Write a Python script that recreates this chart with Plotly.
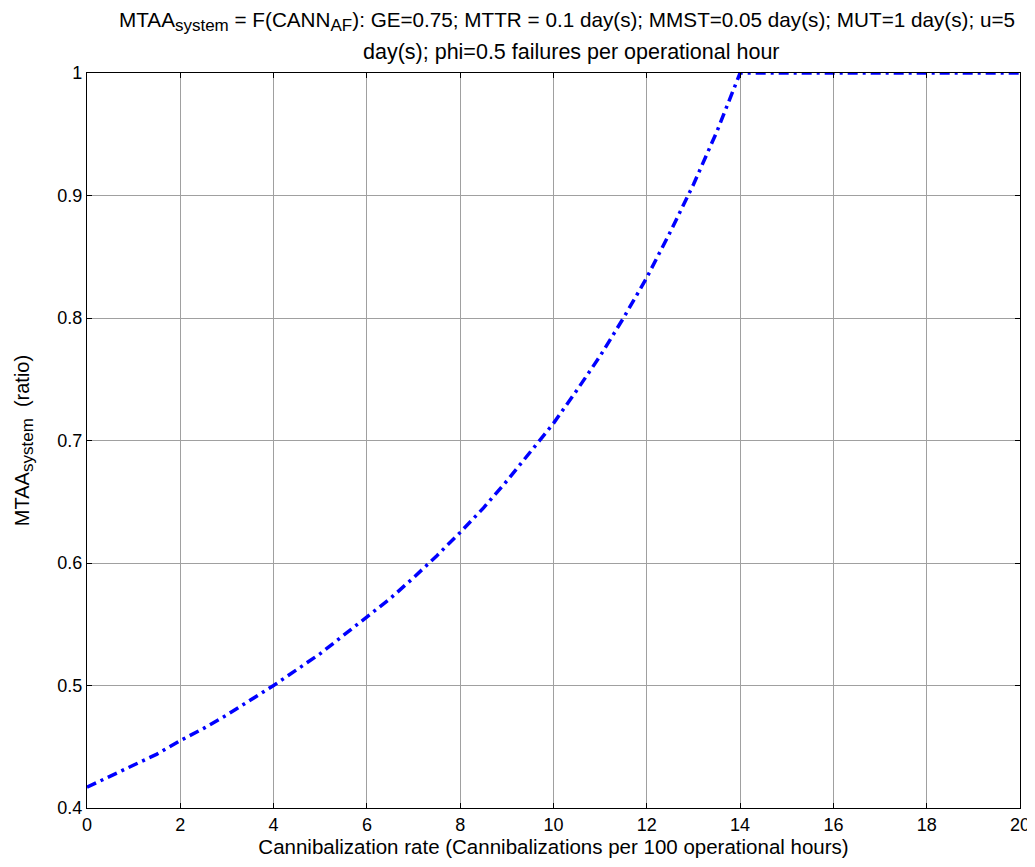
import plotly.graph_objects as go

cann_rate = [0, 0.5, 1, 1.5, 2, 2.5, 3, 3.5, 4, 4.5, 5, 5.5, 6, 6.5, 7, 7.5, 8, 8.5, 9, 9.5,
             10, 10.5, 11, 11.5, 12, 12.5, 13, 13.5, 14, 15, 16, 17, 18, 19, 20]
mtaa = [0.417, 0.426, 0.435, 0.444, 0.455, 0.465, 0.476, 0.488, 0.500, 0.513, 0.526,
        0.541, 0.556, 0.571, 0.588, 0.606, 0.625, 0.645, 0.667, 0.690,
        0.714, 0.741, 0.769, 0.800, 0.833, 0.870, 0.909, 0.952, 1.0,
        1.0, 1.0, 1.0, 1.0, 1.0, 1.0]

x_ticks = [0, 2, 4, 6, 8, 10, 12, 14, 16, 18, 20]
y_ticks = [0.4, 0.5, 0.6, 0.7, 0.8, 0.9, 1.0]
y_tick_text = ["0.4", "0.5", "0.6", "0.7", "0.8", "0.9", "1"]

SUB = '<sub><span style="font-size:17px">{}</span></sub>'
title_line1 = ("MTAA" + SUB.format("system") + " = F(CANN" + SUB.format("AF") +
               "): GE=0.75; MTTR = 0.1 day(s); MMST=0.05 day(s); MUT=1 day(s); u=5")
title_line2 = "day(s); phi=0.5 failures per operational hour"
y_title = "MTAA" + SUB.format("system") + "  (ratio)"
x_title = "Cannibalization rate (Cannibalizations per 100 operational hours)"

FONT = "Liberation Sans, Arial, sans-serif"

fig = go.Figure()
fig.add_trace(go.Scatter(
    x=cann_rate, y=mtaa, mode="lines",
    line=dict(color="#0000ff", width=3.5, dash="10px,5px,3px,5px"),
    showlegend=False, cliponaxis=False,
))

axis_common = dict(
    showline=True, linecolor="black", linewidth=1.2, mirror="ticks",
    ticks="inside", ticklen=5, tickcolor="black",
    showgrid=True, gridcolor="#a0a0a0", gridwidth=1,
    zeroline=False, automargin=False, ticklabeloverflow="allow",
    tickfont=dict(family=FONT, size=18, color="black"),
)

# page body has an 8px margin; compensate so the figure lands where the reference is
fig.update_layout(
    width=1027, height=851,
    paper_bgcolor="white", plot_bgcolor="white",
    margin=dict(l=79, r=15, t=65, b=51, autoexpand=False),
    font=dict(family=FONT, size=18, color="black"),
    xaxis=dict(range=[0, 20], tickvals=x_ticks,
               title=dict(text=x_title, standoff=2, font=dict(size=20.5)),
               **axis_common),
    yaxis=dict(range=[0.4, 1.0], tickvals=y_ticks, ticktext=y_tick_text,
               title=dict(text=y_title, standoff=22, font=dict(size=20)),
               **axis_common),
    annotations=[
        dict(text=title_line1, xref="paper", yref="paper", x=0.515, y=1,
             xanchor="center", yanchor="bottom", yshift=36, showarrow=False,
             font=dict(family=FONT, size=20.7, color="black")),
        dict(text=title_line2, xref="paper", yref="paper", x=0.519, y=1,
             xanchor="center", yanchor="bottom", yshift=7, showarrow=False,
             font=dict(family=FONT, size=21.5, color="black")),
    ],
)

fig.write_html("out.html")
